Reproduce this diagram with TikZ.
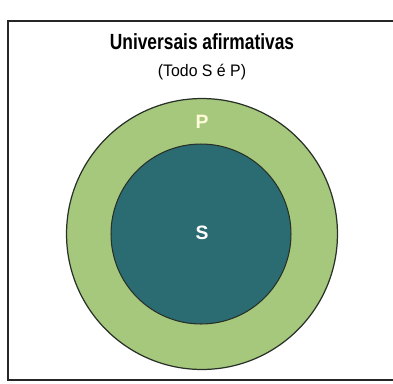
\documentclass[tikz,border=0pt]{standalone}
\usepackage{fontspec}
\setsansfont{Liberation Sans}
\newfontfamily\condsans[FakeStretch=0.79]{Liberation Sans}
\newfontfamily\narrowsans[FakeStretch=0.95]{Liberation Sans}
\usetikzlibrary{positioning}
\definecolor{ringgreen}{RGB}{166,200,124}
\definecolor{coreteal}{RGB}{42,108,114}
\definecolor{edgedark}{RGB}{40,48,40}
\tikzset{%
    % Specifications for style of nodes:
    base/.style = {
        inner sep=0pt, outer sep=0pt
    },
    setP/.style = {base, circle, draw=edgedark, line width=0.7pt, fill=ringgreen},
    setS/.style = {base, circle, draw=edgedark, line width=0.6pt, fill=coreteal},
    heading/.style = {base, font=\condsans\bfseries\fontsize{12.5}{14}\selectfont},
    subheading/.style = {base, font=\narrowsans\fontsize{9.5}{11}\selectfont},
    setname/.style = {base, font=\sffamily\bfseries\fontsize{11}{13}\selectfont}
}

\begin{document}
\begin{tikzpicture}[x=0.02cm, y=-0.02cm]
    \useasboundingbox (0,0) rectangle (393,383);
    \draw[line width=1pt, black!85] (8,21) rectangle (398,380);
    \node[heading] (title) at (202,42) {Universais afirmativas};
    \node[subheading, below=2.9mm of title] (subtitle) {(Todo S é P)};
    \node[setP, minimum size=5.42cm] (P) at (202,234) {};
    \node[setS, minimum size=3.6cm] (S) at (201,234) {};
    \node[setname, text=yellow!15!white] (Plabel) at (202,122) {P};
    \node[setname, text=white] (Slabel) at (202,233) {S};
\end{tikzpicture}
\end{document}
